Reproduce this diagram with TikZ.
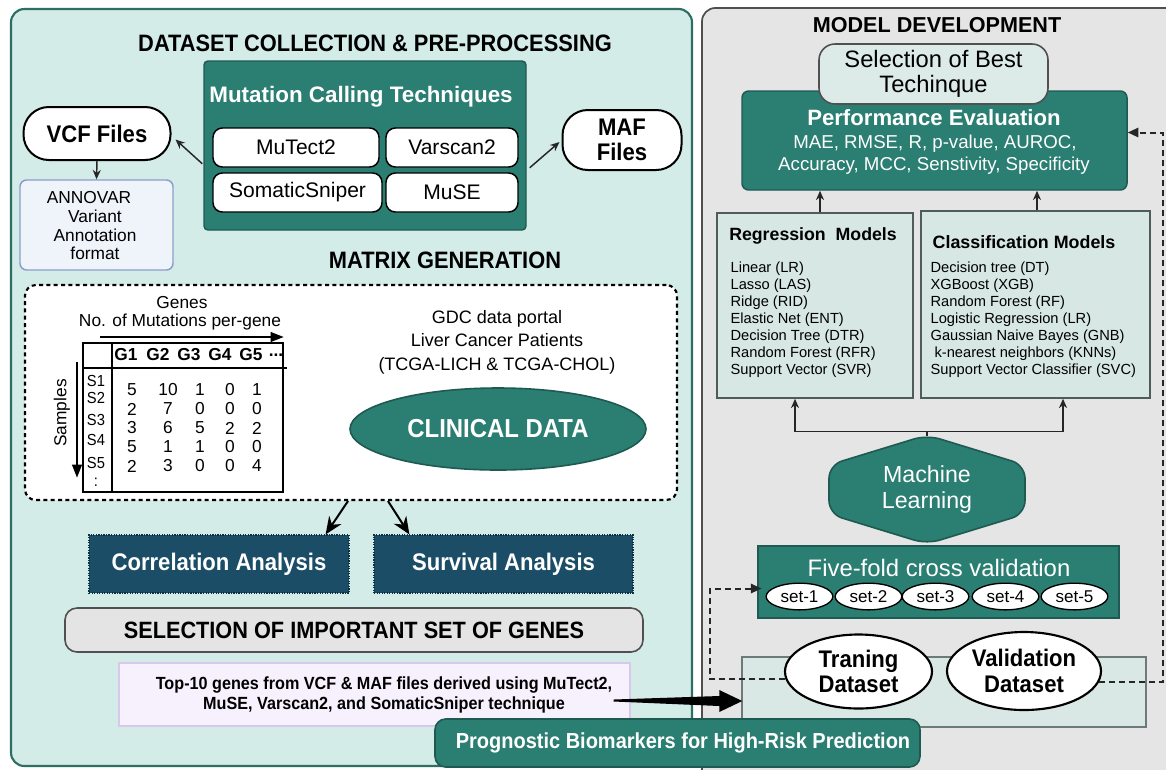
\documentclass[tikz,border=0pt]{standalone}
\usepackage{fontspec}
\setmainfont{Liberation Sans}
\newfontfamily\cnd[FakeStretch=0.92]{Liberation Sans}
\usetikzlibrary{arrows.meta,calc,shapes.geometric}

\newcommand\fs[2]{\fontsize{#1}{#2}\selectfont}

\definecolor{panelL}{HTML}{D3ECE7}
\definecolor{panelLb}{HTML}{2E6E64}
\definecolor{panelR}{HTML}{E5E5E5}
\definecolor{panelRb}{HTML}{4F4F4F}
\definecolor{tealF}{HTML}{2A7E72}
\definecolor{tealB}{HTML}{1F5A52}
\definecolor{annF}{HTML}{EFF3FA}
\definecolor{annB}{HTML}{8C9DCB}
\definecolor{anF}{HTML}{1B4D67}
\definecolor{anB}{HTML}{0E2F42}
\definecolor{selF}{HTML}{E4E4E4}
\definecolor{selB}{HTML}{505050}
\definecolor{topF}{HTML}{F6F1FD}
\definecolor{topB}{HTML}{D8C8EE}
\definecolor{bestF}{HTML}{DDEBE8}
\definecolor{mF}{HTML}{D7E7E3}
\definecolor{mB}{HTML}{4E5D5A}
\definecolor{dsF}{HTML}{D9E8E4}
\definecolor{dsB}{HTML}{6D7B78}

\tikzset{
  every node/.append style={inner sep=1pt},
  wh/.style 2 args={minimum width=#1*0.75pt, minimum height=#2*0.75pt},
  ttl/.style={font=\cnd\bfseries\fs{17.8}{20}},
  tealbox/.style={draw=tealB, fill=tealF, line width=1.1pt, rounded corners=3pt},
  toolbox/.style={draw=black, fill=white, line width=1.1pt, rounded corners=7pt, font=\fs{15.8}{18}},
  pill/.style={draw=black, fill=white, line width=1.5pt, rounded corners=19pt, font=\cnd\bfseries\fs{18}{20}, align=center},
  annbox/.style={draw=annB, fill=annF, line width=1.1pt, rounded corners=5pt},
  sarr/.style={-{Stealth[length=7pt,width=6pt]}, line width=1.1pt, draw=black!85},
  barr/.style={-{Stealth[length=13pt,width=11pt]}, line width=1.5pt},
  darr/.style={-{Triangle[length=8pt,width=7pt]}, draw=black!85, line width=1.5pt, dash pattern=on 4.5pt off 3pt},
  dbox/.style={draw=black, fill=white, line width=1.6pt, dash pattern=on 3pt off 2.5pt, rounded corners=8pt},
  anbox/.style={draw=anB, fill=anF, line width=0.9pt, densely dotted, font=\cnd\bfseries\fs{18}{20}, text=white},
  selbox/.style={draw=selB, fill=selF, line width=1.2pt, rounded corners=9pt, font=\cnd\bfseries\fs{17.7}{20}},
  topbox/.style={draw=topB, fill=topF, line width=1.1pt},
  progbox/.style={draw=tealB, fill=tealF, line width=1.2pt, rounded corners=8pt},
  bestbox/.style={draw=selB, fill=bestF, line width=1.2pt, rounded corners=12pt, font=\fs{17.8}{18.8}, align=center},
  mbox/.style={draw=mB, fill=mF, line width=1.1pt},
  setnode/.style={ellipse, draw=black, fill=white, line width=1pt, minimum width=50pt, minimum height=20pt, font=\fs{12.8}{14}},
  dsnode/.style={ellipse, draw=black, fill=white, line width=1.6pt, align=center, font=\cnd\bfseries\fs{18}{19}},
  cell/.style={font=\fs{13}{15}},
  slab/.style={font=\cnd\fs{12}{13}},
  hcell/.style={font=\bfseries\fs{13}{15}},
  item/.style={font=\fs{11}{12.75}, align=left, anchor=west},
  axarr/.style={-{Triangle[length=10pt,width=7pt]}, line width=2pt},
}

\begin{document}
\begin{tikzpicture}[x=0.75pt,y=-0.75pt]
\useasboundingbox (0,0) rectangle (1166,769);
\clip (0,0) rectangle (1166,769);

% ---------- panels ----------
\path[draw=panelLb, fill=panelL, line width=1.6pt, rounded corners=10pt] (11,9) rectangle (692,766);
\path[draw=panelRb, fill=panelR, line width=1.3pt, rounded corners=10pt] (702,8) rectangle (1185,790);

% ---------- dataset collection ----------
\node[ttl] (t1) at (375,43) {DATASET COLLECTION \& PRE-PROCESSING};
\node[tealbox, wh={322}{169}] (mct) at (365,145.5) {};
\node[font=\bfseries\fs{16.8}{18}, text=white] (mctt) at (361,97) {Mutation Calling Techniques};
\node[toolbox, wh={166}{39}] (mu) at (296,147.5) {MuTect2};
\node[toolbox, wh={132}{39}] (vs) at (452,147.5) {Varscan2};
\node[toolbox, wh={169}{39}] (ss) at (297.5,192.5) {SomaticSniper};
\node[toolbox, wh={132}{39}] (ms) at (452,192.5) {MuSE};

\node[pill, wh={147}{53}] (vcf) at (97,133.5) {VCF Files};
\node[pill, wh={119}{60}] (maf) at (622,140) {MAF\\[-1pt]Files};

\node[annbox, wh={153}{90}] (ann) at (96.5,225) {};
\node[font=\fs{13}{14}, align=center] (annt) at (95,226) {ANNOVAR\hspace*{9pt}\\Variant\\Annotation\\format};

\draw[sarr] ($(mct.south west)+(-1,-67)$) -- ($(vcf.east)+(4,6)$);
\draw[sarr] ($(mct.south east)+(3,-63)$) -- ($(maf.west)+(-2,2)$);
\draw[sarr] (vcf.south) -- (ann.north);

% ---------- matrix generation ----------
\node[ttl] (t2) at (445,260) {MATRIX GENERATION};
\node[dbox, wh={652}{215}] (mg) at (351,392.5) {};

% mutation count table
\node[draw, line width=2pt, wh={200}{149}] (tbl) at (183,417.5) {};
\draw[line width=2.2pt] (83,368) -- (287,368);
\draw[line width=2pt] (112,343) -- (112,492);
\draw[axarr] (100,337) -- (284,337);
\draw[axarr] (77,362) -- (77,478);
\node[cell] (gn) at (182,303) {Genes};
\node[cell] (nm) at (180,322) {No. of Mutations per-gene};
\node[cell, rotate=90] (smp) at (62,413) {Samples};
\node[hcell] (g1) at (126,355) {G1};
\node[hcell] (g2) at (158,355) {G2};
\node[hcell] (g3) at (189,355) {G3};
\node[hcell] (g4) at (220,355) {G4};
\node[hcell] (g5) at (251,355) {G5};
\node[hcell] (gd) at (276,355) {...};
\foreach \s/\y in {1/381,2/398,3/420,4/440,5/463}
  \node[slab] (s\s) at (96,\y) {S\s};
\node[slab] (sd) at (96,482) {:};
\foreach \r/\y/\a/\b/\c/\d/\e in {1/390/5/10/1/0/1, 2/409/2/7/0/0/0, 3/428/3/6/5/2/2, 4/447/5/1/1/0/0, 5/466/2/3/0/0/4} {
  \node[cell] (v\r a) at (132,\y) {\a};
  \node[cell] (v\r b) at (168,\y) {\b};
  \node[cell] (v\r c) at (200,\y) {\c};
  \node[cell] (v\r d) at (230,\y) {\d};
  \node[cell] (v\r e) at (257,\y) {\e};
}

\node[font=\fs{13.5}{17.5}, align=center] (gdc) at (497,342) {GDC data portal\\Liver Cancer Patients\\(TCGA-LICH \& TCGA-CHOL)};
\node[ellipse, draw=tealB, fill=tealF, line width=1.2pt, wh={296}{82}, font=\cnd\bfseries\fs{19.5}{22}, text=white] (cd) at (498,429) {CLINICAL DATA};

% ---------- analyses ----------
\node[anbox, wh={260}{58}] (corr) at (219,564) {Correlation Analysis};
\node[anbox, wh={259}{58}] (surv) at (503.5,564) {Survival Analysis};
\draw[barr] ($(mg.south)+(-3,0)$) -- ($(corr.north east)+(-24,0)$);
\draw[barr] ($(mg.south)+(37,0)$) -- ($(surv.north west)+(36,0)$);

\node[selbox, wh={578}{44}] (sel) at (354,630) {SELECTION OF IMPORTANT SET OF GENES};
\node[topbox, wh={511}{63}] (t10) at (374.5,694.5) {};
\node[font=\cnd\bfseries\fs{13.2}{15}, align=center] (t10t) at (384,695) {Top-10 genes from VCF \& MAF files derived using MuTect2,\\MuSE, Varscan2, and SomaticSniper technique};

% ---------- model development ----------
\node[font=\bfseries\fs{16.2}{18}] (t3) at (937,25) {MODEL DEVELOPMENT};
\node[tealbox, rounded corners=5pt, wh={385}{99}] (pe) at (934.5,140.5) {};
\node[font=\bfseries\fs{16.6}{18}, text=white] (pet) at (934,118) {Performance Evaluation};
\node[font=\fs{14}{16}, text=white] (pm1) at (935,144) {MAE, RMSE, R, p-value, AUROC,};
\node[font=\fs{14}{16}, text=white] (pm2) at (934,166) {Accuracy, MCC, Senstivity, Specificity};
\node[bestbox, wh={229}{60}] (best) at (933.5,74) {Selection of Best\\Techinque};

\node[mbox, wh={196}{185}] (rm) at (815,305.5) {};
\node[mbox, wh={229}{187}] (cm) at (1035.5,304.5) {};
\node[font=\bfseries\fs{13.3}{15}] (rmt) at (813,236) {Regression\ \ Models};
\node[font=\bfseries\fs{13.4}{15}] (cmt) at (1024,242) {Classification Models};
\node[item] (rmi) at (729,320) {Linear (LR)\\Lasso (LAS)\\Ridge (RID)\\Elastic Net (ENT)\\Decision Tree (DTR)\\Random Forest (RFR)\\Support Vector (SVR)};
\node[item] (cmi) at (929,320) {Decision tree (DT)\\XGBoost (XGB)\\Random Forest (RF)\\Logistic Regression (LR)\\Gaussian Naive Bayes (GNB)\\\hspace*{3pt}k-nearest neighbors (KNNs)\\Support Vector Classifier (SVC)};

\coordinate (ra) at ($(rm.north)+(5,0)$);
\coordinate (ca) at ($(cm.north)+(1.5,0)$);
\draw[sarr] (ra) -- (ra |- pe.south);
\draw[sarr] (ca) -- (ca |- pe.south);

% machine learning hexagon
\path[draw=tealB, fill=tealF, line width=1.2pt, rounded corners=10pt]
  (927,435) -- (1025,465) -- (1025,514) -- (927,544) -- (829,514) -- (829,465) -- cycle;
\node[wh={196}{107}, text=white, align=center, font=\fs{17.4}{20}] (ml) at (927,489.5) {Machine\\Learning};
\draw[sarr] (ml.north) -- ++(0,-4) -| ($(rm.south)+(-20,0)$);
\draw[sarr] (ml.north) -- ++(0,-4) -| ($(cm.south)+(27.5,0)$);

% cross validation
\node[tealbox, rounded corners=0pt, wh={361}{72}] (ff) at (938.5,582) {};
\node[font=\fs{17.9}{19}, text=white] (fft) at (939,568) {Five-fold cross validation};
\node[setnode] (k1) at (799.5,596.5) {set-1};
\node[setnode] (k2) at (868.5,596.5) {set-2};
\node[setnode] (k3) at (935.5,596.5) {set-3};
\node[setnode] (k4) at (1005.5,596.5) {set-4};
\node[setnode] (k5) at (1074.5,596.5) {set-5};

% datasets
\node[draw=dsB, fill=dsF, line width=1.1pt, wh={404}{70}] (ds) at (944,692) {};
\node[dsnode, wh={147}{74}] (tr) at (858.5,671.5) {Traning\\Dataset};
\node[dsnode, wh={154}{78}] (va) at (1024,671) {Validation\\Dataset};
\draw[darr] (tr.186) -- ++(-75,0) |- ($(k1.west)+(-4,-8)$);
\draw[darr] (va.352) -- ++(64,0) |- ($(pe.east)+(0,-8)$);

% top genes feed the training data
\coordinate (bt) at ($(t10.east)+(-17,6)$);
\coordinate (bh) at ($(ds.west)+(1,9)$);
\fill[black] ($(bt)+(0,-1)$) -- ($(bh)+(-23,-5)$) -- ($(bh)+(-23,-11)$) -- (bh)
  -- ($(bh)+(-23,11)$) -- ($(bh)+(-23,5)$) -- ($(bt)+(0,1)$) -- cycle;

\node[progbox, wh={485}{48}] (pb) at (677.5,743) {};
\node[font=\cnd\bfseries\fs{16.3}{18}, text=white] (pbt) at (683,743) {Prognostic Biomarkers for High-Risk Prediction};
\end{tikzpicture}
\end{document}
